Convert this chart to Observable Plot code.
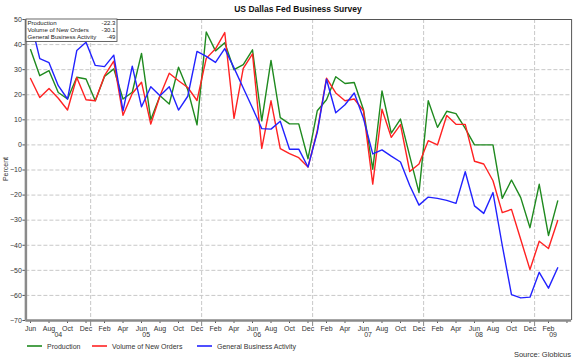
<!DOCTYPE html>
<html><head><meta charset="utf-8">
<script src="https://cdn.jsdelivr.net/npm/d3@7"></script>
<script src="https://cdn.jsdelivr.net/npm/@observablehq/plot@0.6"></script>
<style>body{margin:0;background:#fff} svg{display:block}</style>
</head><body><div id="chart"></div>
<script>
// Monthly survey readings, Jun 2004 – Mar 2009
const production = [38, 27.6, 29.6, 20.9, 18.3, 27, 26.3, 17.6, 27.3, 30.3, 18.3, 21, 36.5, 10, 19.6, 16.3, 31, 22, 8,
  45, 37.5, 40.7, 30, 32, 37.9, 9.6, 33.7, 10.9, 8.4, 8.4, -5.5, 13.6, 18, 27.2, 24.5, 24.9, 14, -9.7,
  21.5, 4.7, 10.3, -4.5, -19, 17.6, 7, 13.4, 12.5, 6.6, 0, 0, 0, -21.3, -14, -21, -33, -15.7, -36.1, -22.3];
const newOrders = [26.5, 18.9, 22.5, 18.6, 13.9, 26.9, 18, 17.6, 27.6, 33.4, 11.8, 20.5, 25, 8.3, 19.6, 28.6, 25.6, 22.9, 17.7,
  34.5, 38.3, 44.8, 10.6, 30.5, 36.3, -1.4, 17.6, -1.5, -3.5, -5.1, -8.8, 5.6, 26.6, 20.7, 17.6, 18.3, 13.6, -15.6,
  14.2, 3, 8.1, -10.6, -7.6, 1.7, 0, 11.7, 8.2, 8.2, -6.5, -7.6, -14.3, -27, -25.7, -37.7, -49.7, -38.4, -41.3, -30.1];
const businessActivity = [49.5, 34.4, 32.8, 23.6, 18.3, 37.6, 40.9, 31.7, 31.2, 35.8, 13.6, 31.4, 15.2, 23.2, 19.6, 23.2, 13.9, 19.4, 37.3,
  35.3, 32.9, 38.4, 30.7, 22.7, 14.7, 6.5, 6.3, 9.4, -1.7, -1.7, -8.8, 5, 26.2, 12.8, 16, 20.7, 10.5, -3.6,
  -2, -4.5, -6.8, -16.2, -24, -20.8, -21.3, -22.1, -23.3, -10.7, -24.3, -27.3, -19, -40, -59.7, -61, -60.7, -50.8, -57.1, -49];

const seriesNames = ["Production", "Volume of New Orders", "General Business Activity"];
const seriesColors = ["#1f8a1f", "#ff2222", "#2222ff"];
const latestLabels = ["-22.3", "-30.1", "-49"];
const monthNames = ["Jan","Feb","Mar","Apr","May","Jun","Jul","Aug","Sep","Oct","Nov","Dec"];
const yearLabels = ["04","05","06","07","08","09"];
const yTicks = [-70,-60,-50,-40,-30,-20,-10,0,10,20,30,40,50];
const title = "US Dallas Fed Business Survey";
const source = "Source: Globicus";

const startMonth = 5; // June
const n = production.length;
const monthOf = i => (startMonth + i) % 12;
const xDomain = [-0.5, n + 0.5];

const seriesValues = [production, newOrders, businessActivity];
const data = seriesNames.flatMap((s, k) => seriesValues[k].map((v, i) => ({i, v, s})));

const xTicks = d3.range(0, n + 1, 2);
const yearBounds = d3.range(0, n).filter(i => monthOf(i) === 0).map(i => i - 0.5);
const yearPos = yearLabels.map((y, k) => {
  const start = 12 * k - startMonth - 0.5;
  const lo = Math.max(xDomain[0], start);
  const hi = Math.min(xDomain[1], start + 12);
  return (lo + hi) / 2;
});

const font = "'Liberation Sans', Arial, sans-serif";
const chart = Plot.plot({
  width: 580, height: 363,
  marginLeft: 25.4, marginRight: 8.9, marginTop: 19, marginBottom: 43,
  style: {fontFamily: font, fontSize: "7px", color: "#333", background: "#fff"},
  x: {domain: xDomain, axis: null},
  y: {domain: [yTicks[0], yTicks[yTicks.length - 1]], axis: null},
  color: {domain: seriesNames, range: seriesColors},
  marks: [
    Plot.ruleY(yTicks.slice(1, -1), {stroke: "#c8c8c8", strokeDasharray: "4,2"}),
    Plot.ruleX(yearBounds, {stroke: "#c8c8c8", strokeDasharray: "4,2"}),
    Plot.line(data, {x: "i", y: "v", z: "s", stroke: "s", strokeWidth: 1.4}),
    Plot.ruleY([yTicks[yTicks.length - 1]], {stroke: "#555"}),
    Plot.ruleX([xDomain[1]], {stroke: "#555"}),
    Plot.axisY({ticks: yTicks, tickSize: 3, tickPadding: 1, stroke: "#555", fontSize: 7, label: null}),
    Plot.axisX({ticks: xTicks, tickSize: 3, tickPadding: 3, stroke: "#555", label: null,
      tickFormat: i => i < n ? monthNames[monthOf(i)] : ""}),
    Plot.axisX({ticks: yearBounds, tickSize: 6, stroke: "#888", label: null, tickFormat: () => ""}),
    Plot.axisX({ticks: yearPos, tickSize: 0, tickPadding: 12, label: null,
      tickFormat: (d) => yearLabels[yearPos.indexOf(d)]}),
    Plot.ruleX([xDomain[0]], {stroke: "#8a8a8a", strokeWidth: 2.5}),
    Plot.ruleY([yTicks[0]], {stroke: "#8a8a8a", strokeWidth: 2.5})
  ]
});

const svg = d3.select(chart);
const txt = (sel) => sel.attr("font-family", font).attr("fill", "#333").attr("text-anchor", "start");
txt(svg.append("text")).attr("x", 298).attr("y", 12).attr("text-anchor", "middle")
  .attr("font-weight", "bold").attr("font-size", 8.5).attr("fill", "#111").text(title);
txt(svg.append("text")).attr("transform", "translate(8,169) rotate(-90)").attr("text-anchor", "middle")
  .attr("font-size", 7).text("Percent");

// value box
const box = svg.append("g");
box.append("rect").attr("x", 26).attr("y", 19).attr("width", 91).attr("height", 22.5)
  .attr("fill", "#fff").attr("stroke", "#444").attr("stroke-width", 0.8);
seriesNames.forEach((s, k) => {
  txt(box.append("text")).attr("x", 27.5).attr("y", 25 + k * 7).attr("font-size", 6.1)
    .attr("fill", "#222").text(s);
  txt(box.append("text")).attr("x", 115.5).attr("y", 25 + k * 7).attr("text-anchor", "end")
    .attr("font-size", 6.1).attr("fill", "#222").text(latestLabels[k]);
});

// bottom legend
const lx = [27, 92, 197];
const leg = svg.append("g");
seriesNames.forEach((s, k) => {
  leg.append("line").attr("x1", lx[k]).attr("x2", lx[k] + 15).attr("y1", 346).attr("y2", 346)
    .attr("stroke", seriesColors[k]).attr("stroke-width", 1.6);
  txt(leg.append("text")).attr("x", lx[k] + 20).attr("y", 348.5).attr("font-size", 7).text(s);
});
txt(svg.append("text")).attr("x", 571).attr("y", 357).attr("text-anchor", "end")
  .attr("font-size", 7.5).text(source);

document.getElementById("chart").appendChild(chart);
</script>
</body></html>
